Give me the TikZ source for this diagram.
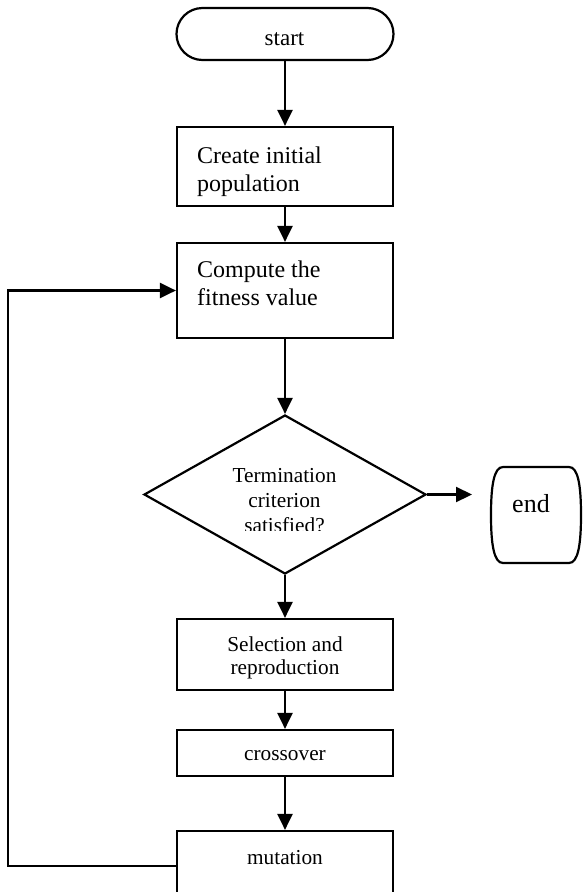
\documentclass[tikz,border=0pt]{standalone}
\usepackage{fontspec}
\setmainfont{Liberation Serif}
\usetikzlibrary{arrows.meta,shapes.geometric}
\begin{document}
\begin{tikzpicture}[x=1pt,y=-1pt,
  box/.style={draw,line width=2.2pt,rectangle,inner sep=0pt,minimum width=216pt},
  arr/.style={line width=2.2pt,-{Triangle[length=16pt,width=15pt]}},
  lbl/.style={inner sep=0pt,font=\fontsize{21.3}{24}\selectfont,align=center},
  big/.style={inner sep=0pt,font=\fontsize{24}{27.5}\selectfont,align=left},
]
\useasboundingbox (0,0) rectangle (582,892);
% shapes
\node[box,rounded corners=26pt,minimum width=217pt,minimum height=52pt] (start) at (285,34) {};
\node[box,minimum height=79pt] (create) at (285,166.5) {};
\node[box,minimum height=95pt] (compute) at (285,290.5) {};
\node[draw,diamond,line width=2.2pt,inner sep=0pt,minimum width=282pt,minimum height=159pt] (dec) at (285,494.5) {};
\node[box,minimum height=71pt] (select) at (285,654.5) {};
\node[box,minimum height=46pt] (cross) at (285,753) {};
\node[box,minimum height=70pt] (mutation) at (285,866) {};
% end terminal
\draw[line width=2.2pt] (503,467) -- (569,467)
  .. controls (578,467) and (581,485) .. (581,515)
  .. controls (581,545) and (578,563) .. (569,563)
  -- (503,563)
  .. controls (494,563) and (491,545) .. (491,515)
  .. controls (491,485) and (494,467) .. (503,467) -- cycle;
% texts
\node[inner sep=0pt,anchor=base,font=\fontsize{23}{27}\selectfont] (starttext) at (284.5,45) {start};
\node[big,anchor=base west] (createtext) at (197,191) {Create initial\\population};
\node[big,anchor=base west] (computetext) at (197,305) {Compute the\\fitness value};
\begin{scope}
  \clip (0,0) rectangle (582,530.5);
  \node[lbl,anchor=base,font=\fontsize{21.3}{25}\selectfont] (dectext) at (284.5,532.5) {Termination\\criterion\\satisfied?};
\end{scope}
\node[inner sep=0pt,anchor=base,font=\fontsize{26}{30}\selectfont] (end) at (531,512) {end};
\node[lbl,anchor=base,font=\fontsize{21.3}{23.5}\selectfont] (selecttext) at (285,674.5) {Selection and\\reproduction};
\node[lbl,anchor=base] (crosstext) at (285,760) {crossover};
\node[lbl,anchor=base] (mutationtext) at (285,864) {mutation};
% connectors
\coordinate (endtip) at (472,494.5);
\draw[arr] (start.south) -- (create.north);
\draw[arr] (create.south) -- (compute.north);
\draw[arr] (compute.south) -- (dec.north);
\draw[arr] (dec.east) -- (endtip);
\draw[arr] (dec.south) -- (select.north);
\draw[arr] (select.south) -- (cross.north);
\draw[arr] (cross.south) -- (mutation.north);
\draw[arr] (mutation.west) -- ++(-168,0) |- (compute.west);
\end{tikzpicture}
\end{document}
